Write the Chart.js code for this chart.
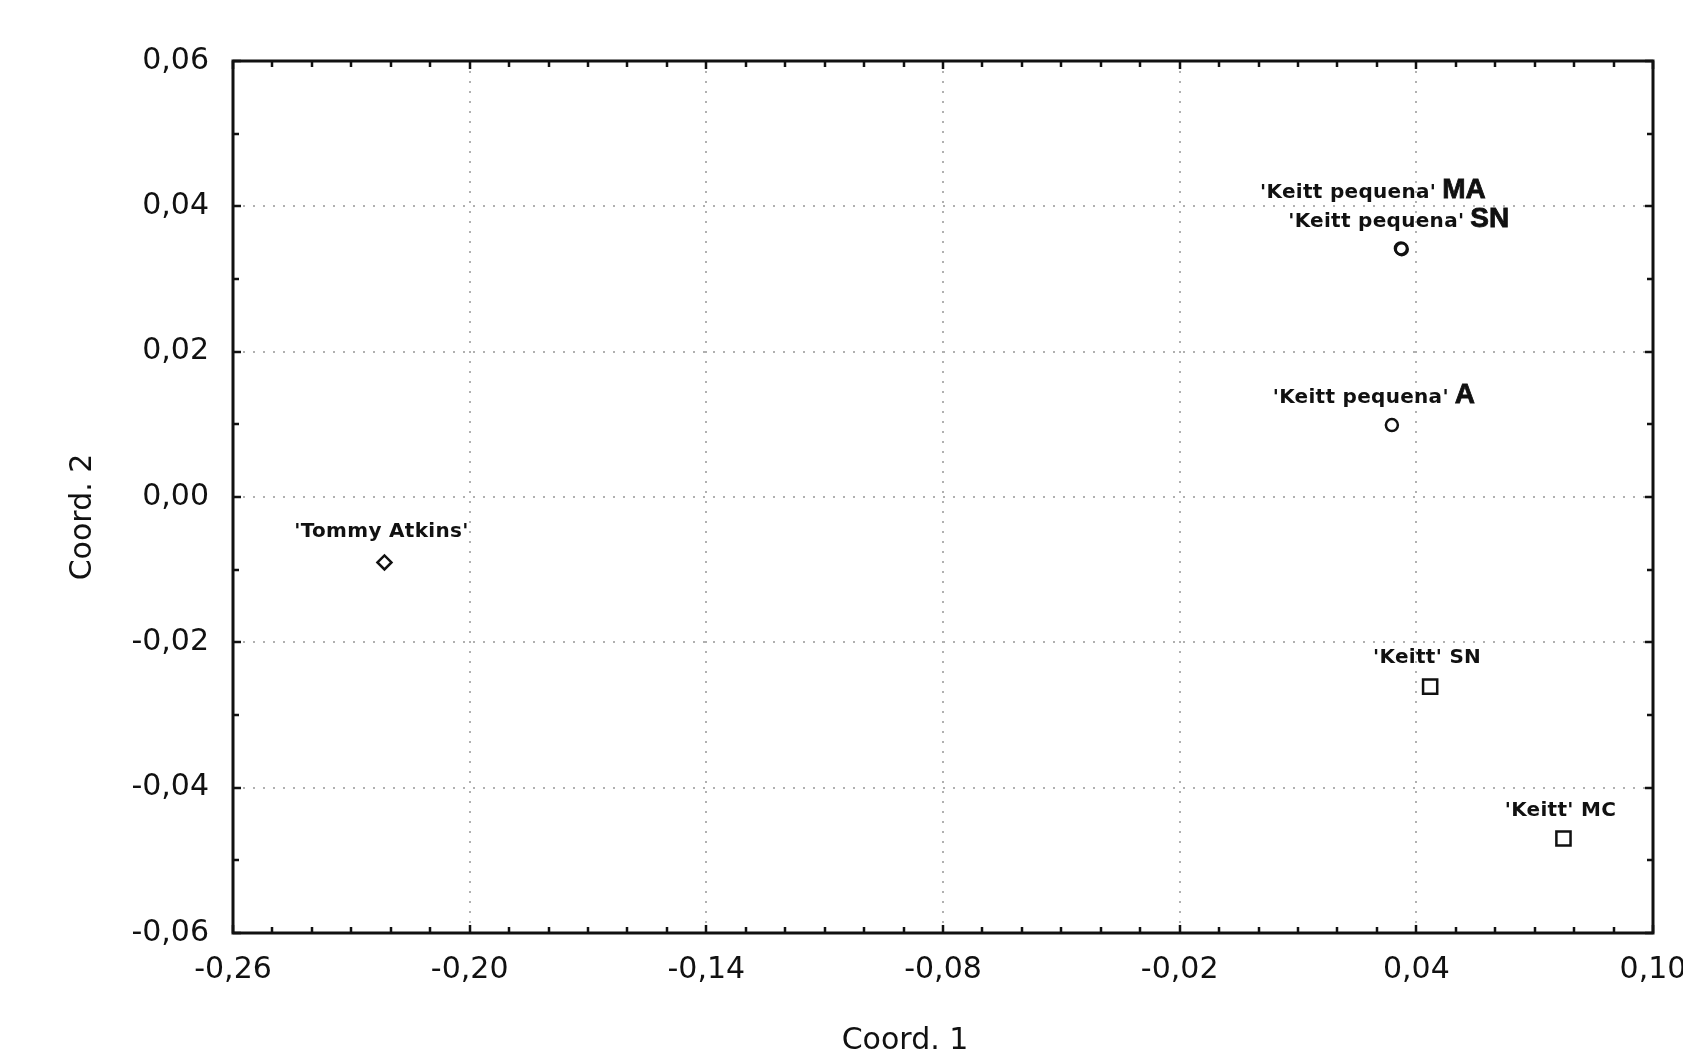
<!DOCTYPE html>
<html><head><meta charset="utf-8">
<script src="https://cdn.jsdelivr.net/npm/chart.js@4.4.1/dist/chart.umd.min.js"></script>
<style>html,body{margin:0;padding:0;background:#fff;}#wrap{width:1683px;height:1054px;position:relative;}</style>
</head><body><div id="wrap"><canvas id="c"></canvas></div>
<script>
// ---- data ----
const xTicks = [-0.26, -0.20, -0.14, -0.08, -0.02, 0.04, 0.10];
const yTicks = [-0.06, -0.04, -0.02, 0.00, 0.02, 0.04, 0.06];
const xTitle = 'Coord. 1';
const yTitle = 'Coord. 2';

const tommyX = [-0.2216];
const tommyY = [-0.0090];
const tommyNames = ["'Tommy Atkins'"];
const tommySuffix = [''];

const pequenaX = [0.0361, 0.0363, 0.0338];
const pequenaY = [0.0342, 0.0341, 0.0099];
const pequenaNames = ["'Keitt pequena'", "'Keitt pequena'", "'Keitt pequena'"];
const pequenaSuffix = ['MA', 'SN', 'A'];

const keittX = [0.0435, 0.0773];
const keittY = [-0.0261, -0.0470];
const keittNames = ["'Keitt' SN", "'Keitt' MC"];
const keittSuffix = ['', ''];

// ---- label placement (style): [dx of label centre, dy of baseline] ----
const tommyLabelOff = [[-3, -25]];
const pequenaLabelOff = [[-28, -50], [-3, -22], [-18, -22]];
const keittLabelOff = [[-3, -24], [-3, -23]];

const pts = (xs, ys) => xs.map((x, i) => ({x, y: ys[i]}));
const fmt = v => (Math.abs(v) < 1e-9 ? 0 : v).toFixed(2).replace('.', ',');
const INK = '#111';
const SMALL_FONT = 'bold 20px "DejaVu Sans"';
const SMALL_SP = '0.3px';
const BIG_FONT = 'bold 28px "Liberation Sans"';

const labelsPlugin = {
  id: 'pointLabels',
  afterDatasetsDraw(chart) {
    const ctx = chart.ctx;
    chart.data.datasets.forEach((ds, di) => {
      const meta = chart.getDatasetMeta(di);
      meta.data.forEach((el, i) => {
        const main = ds.names[i], suf = ds.suffix[i], off = ds.labelOff[i];
        ctx.save();
        ctx.fillStyle = INK;
        ctx.strokeStyle = INK;
        ctx.textBaseline = 'alphabetic';
        ctx.textAlign = 'left';
        ctx.font = SMALL_FONT;
        ctx.letterSpacing = SMALL_SP;
        const w1 = ctx.measureText(main).width;
        ctx.font = BIG_FONT;
        ctx.letterSpacing = '0px';
        const w2 = suf ? ctx.measureText(suf).width : 0;
        const gap = suf ? 6 : 0;
        const total = w1 + gap + w2;
        const x0 = el.x + off[0] - total / 2;
        const yb = el.y + off[1];
        ctx.font = SMALL_FONT;
        ctx.letterSpacing = SMALL_SP;
        ctx.fillText(main, x0, yb);
        if (suf) {
          ctx.font = BIG_FONT;
          ctx.letterSpacing = '0px';
          ctx.lineWidth = 0.8;
          ctx.fillText(suf, x0 + w1 + gap, yb);
          ctx.strokeText(suf, x0 + w1 + gap, yb);
        }
        ctx.restore();
      });
    });
  }
};

const framePlugin = {
  id: 'frame',
  afterDraw(chart) {
    const ctx = chart.ctx, a = chart.chartArea;
    const xs = chart.scales.x, ys = chart.scales.y;
    ctx.save();
    ctx.strokeStyle = INK;
    ctx.lineWidth = 2.5;
    for (let k = 0; k <= 36; k++) {
      const v = -0.26 + k * 0.01;
      const major = k % 6 === 0;
      const len = major ? 8 : 6;
      const px = Math.round(xs.getPixelForValue(v));
      ctx.beginPath();
      ctx.moveTo(px, a.bottom); ctx.lineTo(px, a.bottom - len);
      ctx.moveTo(px, a.top); ctx.lineTo(px, a.top + len);
      ctx.stroke();
    }
    for (let k = 0; k <= 12; k++) {
      const v = -0.06 + k * 0.01;
      const major = k % 2 === 0;
      const len = major ? 8 : 6;
      const py = Math.round(ys.getPixelForValue(v));
      ctx.beginPath();
      ctx.moveTo(a.left, py); ctx.lineTo(a.left + len, py);
      ctx.moveTo(a.right, py); ctx.lineTo(a.right - len, py);
      ctx.stroke();
    }
    ctx.lineWidth = 3;
    ctx.strokeRect(a.left, a.top, a.right - a.left, a.bottom - a.top);
    // axis titles
    ctx.fillStyle = INK;
    ctx.font = '30px "DejaVu Sans"';
    ctx.textAlign = 'center';
    ctx.textBaseline = 'middle';
    ctx.fillText(xTitle, (a.left + a.right) / 2 - 38, a.bottom + 108);
    ctx.translate(a.left - 150, (a.top + a.bottom) / 2 + 20);
    ctx.rotate(-Math.PI / 2);
    ctx.fillText(yTitle, 0, 0);
    ctx.restore();
  }
};

const common = {
  showLine: false,
  borderColor: INK,
  backgroundColor: 'rgba(255,255,255,0)',
  borderWidth: 2,
  pointBorderWidth: 2.5
};

new Chart(document.getElementById('c'), {
  type: 'scatter',
  data: {
    datasets: [
      Object.assign({}, common, {label: 'Tommy Atkins', data: pts(tommyX, tommyY), pointStyle: 'rectRot', pointRadius: 7,
        names: tommyNames, suffix: tommySuffix, labelOff: tommyLabelOff}),
      Object.assign({}, common, {label: 'Keitt pequena', data: pts(pequenaX, pequenaY), pointStyle: 'circle', pointRadius: 6,
        names: pequenaNames, suffix: pequenaSuffix, labelOff: pequenaLabelOff}),
      Object.assign({}, common, {label: 'Keitt', data: pts(keittX, keittY), pointStyle: 'rect', pointRadius: 10,
        names: keittNames, suffix: keittSuffix, labelOff: keittLabelOff})
    ]
  },
  options: {
    responsive: true,
    maintainAspectRatio: false,
    animation: false,
    layout: {padding: {top: 61, right: 30, left: 0, bottom: 0}},
    plugins: {legend: {display: false}, tooltip: {enabled: false}},
    scales: {
      x: {
        type: 'linear', min: -0.26, max: 0.10,
        afterBuildTicks: s => { s.ticks = xTicks.map(v => ({value: v})); },
        afterFit: s => { s.height = 121; s.paddingLeft = 0; s.paddingRight = 0; },
        ticks: {callback: v => fmt(v), color: INK, font: {family: 'DejaVu Sans', size: 30}, padding: 19, maxRotation: 0, autoSkip: false},
        grid: {color: '#b0b0b0', lineWidth: 2, drawTicks: false},
        border: {display: false, dash: [2, 8]}
      },
      y: {
        type: 'linear', min: -0.06, max: 0.06,
        afterBuildTicks: s => { s.ticks = yTicks.map(v => ({value: v})); },
        afterFit: s => { s.width = 233; s.paddingTop = 0; s.paddingBottom = 0; },
        ticks: {callback: v => fmt(v), color: INK, font: {family: 'DejaVu Sans', size: 30}, padding: 24, autoSkip: false},
        grid: {color: '#b0b0b0', lineWidth: 2, drawTicks: false},
        border: {display: false, dash: [2, 8]}
      }
    }
  },
  plugins: [labelsPlugin, framePlugin]
});
</script></body></html>
